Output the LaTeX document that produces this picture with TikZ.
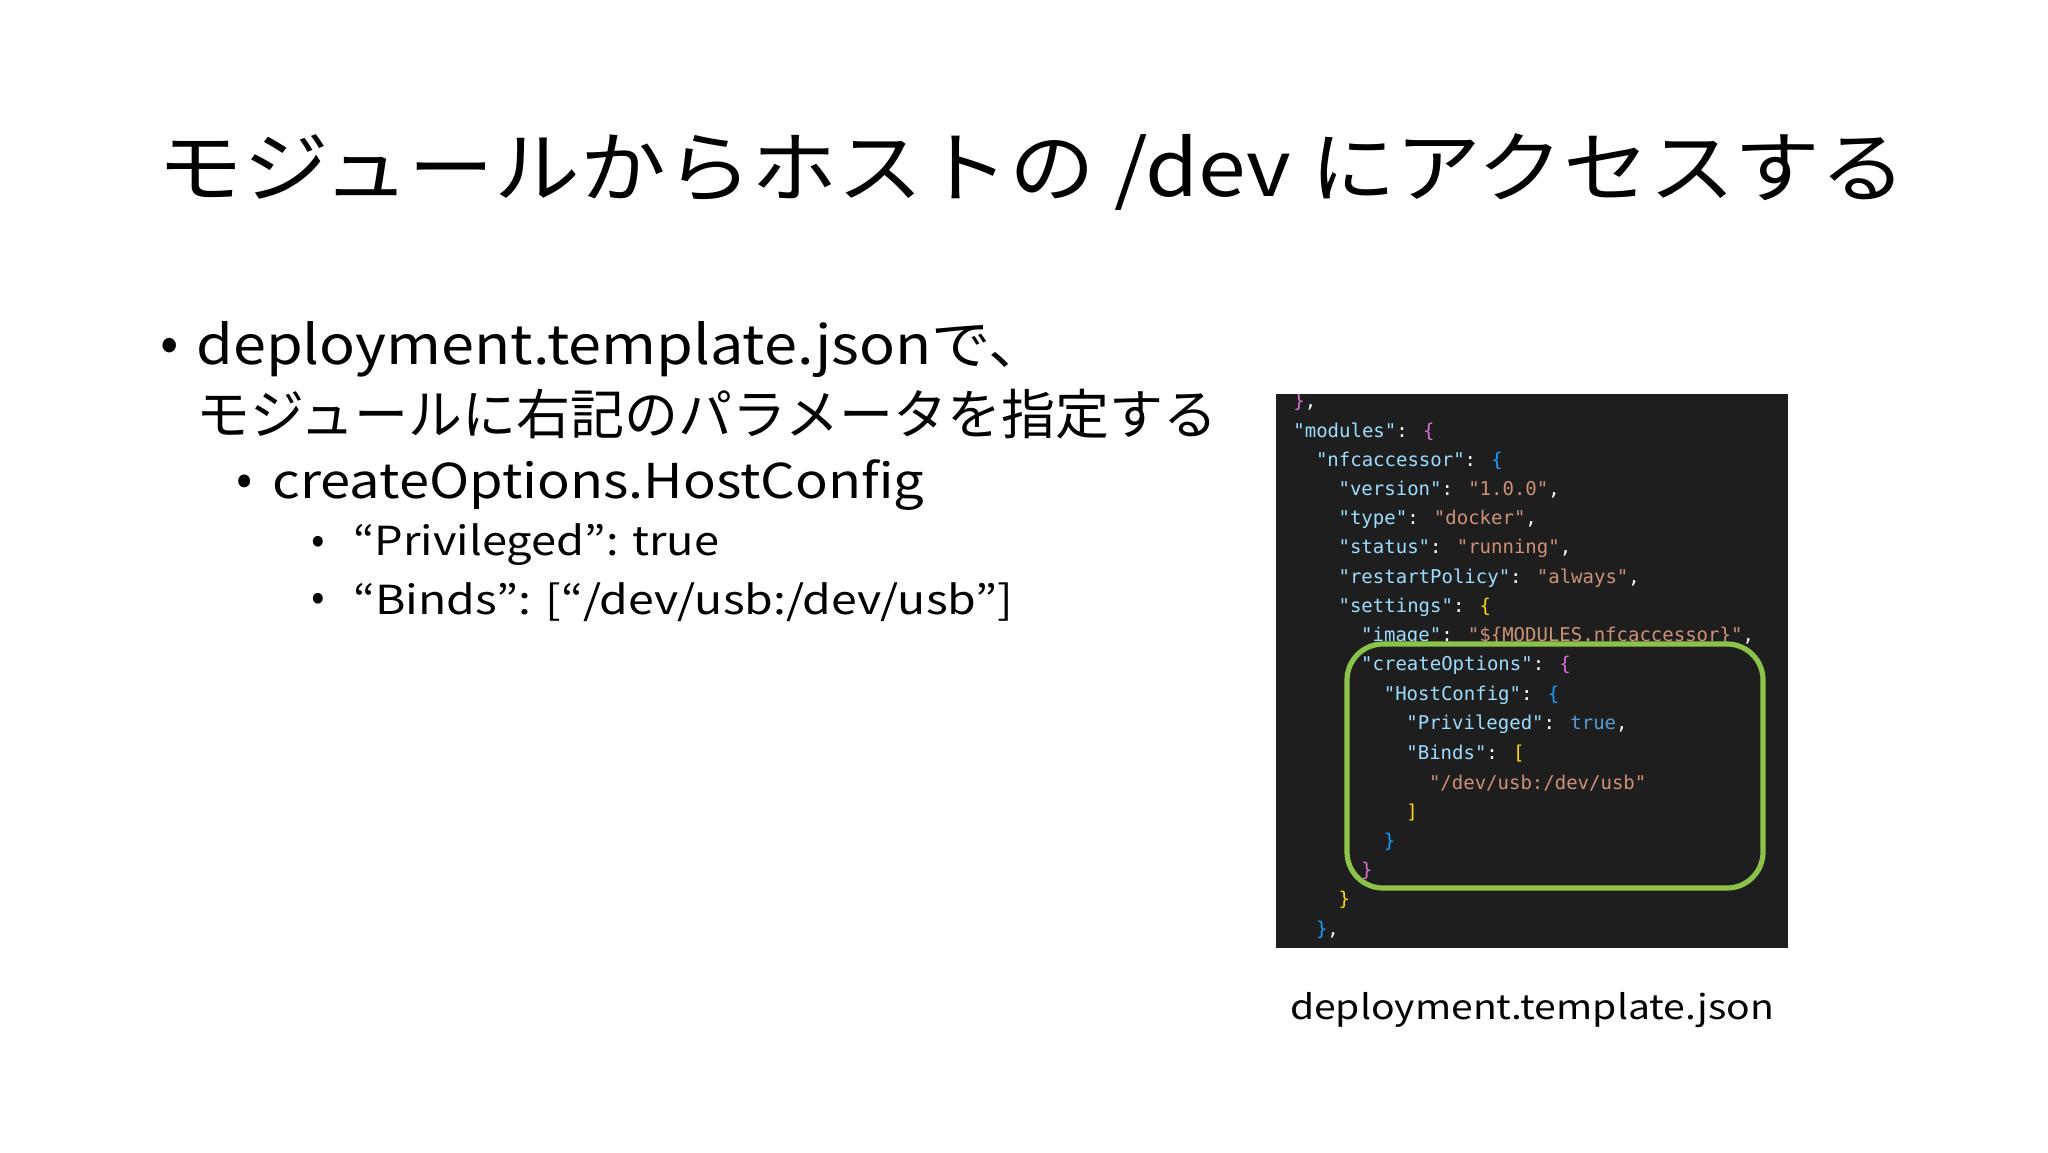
\documentclass[tikz,border=0pt]{standalone}
\usepackage{fontspec}
\usepackage{graphicx}
\setmainfont{Noto Sans CJK JP}
\newfontfamily\codefont{DejaVu Sans Mono}
\begin{document}
\begin{tikzpicture}[x=0.5pt,y=-0.5pt,
  txt/.style={anchor=west,inner sep=0pt,font=#1},
  code/.style={anchor=west,inner sep=0pt,font=\codefont\fontsize{9.5pt}{10pt}\selectfont,text=white}]
\definecolor{ky}{HTML}{9CDCFE}\definecolor{st}{HTML}{CE9178}\definecolor{kw}{HTML}{569CD6}
\definecolor{bp}{HTML}{DA70D6}\definecolor{bb}{HTML}{179FFF}\definecolor{by}{HTML}{FFD700}
\definecolor{panel}{HTML}{1E1E1E}\definecolor{grn}{HTML}{8BC34A}
\useasboundingbox[fill=white] (0,0) rectangle (2048,1152);
\node[txt=\fontsize{39pt}{40pt}\selectfont] (title) at (157,172) {\scalebox{1.1}[1]{モジュールからホストの /dev にアクセスする}};
\node[txt=\fontsize{27pt}{30pt}\selectfont] (b1) at (160,350) {•};
\node[txt=\fontsize{27pt}{30pt}\selectfont] (l1) at (196,350) {\scalebox{1.1}[1]{deployment.template.jsonで、}};
\node[txt=\fontsize{27pt}{30pt}\selectfont] (l2) at (196,414) {モジュールに右記のパラメータを指定する};
\node[txt=\fontsize{24pt}{26pt}\selectfont] (b2) at (236,485) {•};
\node[txt=\fontsize{24pt}{26pt}\selectfont] (l3) at (272,485) {\scalebox{1.13}[1]{createOptions.HostConfig}};
\node[txt=\fontsize{20pt}{22pt}\selectfont] (b3) at (311,545) {•};
\node[txt=\fontsize{20pt}{22pt}\selectfont] (l4) at (353,545) {\scalebox{1.13}[1]{“Privileged”: true}};
\node[txt=\fontsize{20pt}{22pt}\selectfont] (b4) at (311,602) {•};
\node[txt=\fontsize{20pt}{22pt}\selectfont] (l5) at (353,602) {\scalebox{1.16}[1]{“Binds”: [“/dev/usb:/dev/usb”]}};
\fill[panel] (1276,394) rectangle (1788,948);
\begin{scope}
\clip (1276,394) rectangle (1788,948);
\foreach \r/\c/\t in {
 0/0/{\textcolor{bp}{\}},},
 1/0/{\textcolor{ky}{"modules"}: \textcolor{bp}{\{}},
 2/2/{\textcolor{ky}{"nfcaccessor"}: \textcolor{bb}{\{}},
 3/4/{\textcolor{ky}{"version"}: \textcolor{st}{"1.0.0"},},
 4/4/{\textcolor{ky}{"type"}: \textcolor{st}{"docker"},},
 5/4/{\textcolor{ky}{"status"}: \textcolor{st}{"running"},},
 6/4/{\textcolor{ky}{"restartPolicy"}: \textcolor{st}{"always"},},
 7/4/{\textcolor{ky}{"settings"}: \textcolor{by}{\{}},
 8/6/{\textcolor{ky}{"image"}: \textcolor{st}{"\$\{MODULES.nfcaccessor\}"},},
 9/6/{\textcolor{ky}{"createOptions"}: \textcolor{bp}{\{}},
 10/8/{\textcolor{ky}{"HostConfig"}: \textcolor{bb}{\{}},
 11/10/{\textcolor{ky}{"Privileged"}: \textcolor{kw}{true},},
 12/10/{\textcolor{ky}{"Binds"}: \textcolor{by}{[}},
 13/12/{\textcolor{st}{"/dev/usb:/dev/usb"}},
 14/10/{\textcolor{by}{]}},
 15/8/{\textcolor{bb}{\}}},
 16/6/{\textcolor{bp}{\}}},
 17/4/{\textcolor{by}{\}}},
 18/2/{\textcolor{bb}{\}},}}
 \node[code] (c\r) at ({1293+11.3*\c},{402+29.3*\r}) {\t};
\end{scope}
\draw[grn,line width=2.6pt,rounded corners=18] (1347,644) rectangle (1763,888);
\node[anchor=center,inner sep=0pt,font=\fontsize{17pt}{19pt}\selectfont] (cap) at (1532,1010) {\scalebox{1.15}[1]{deployment.template.json}};
\end{tikzpicture}
\end{document}
